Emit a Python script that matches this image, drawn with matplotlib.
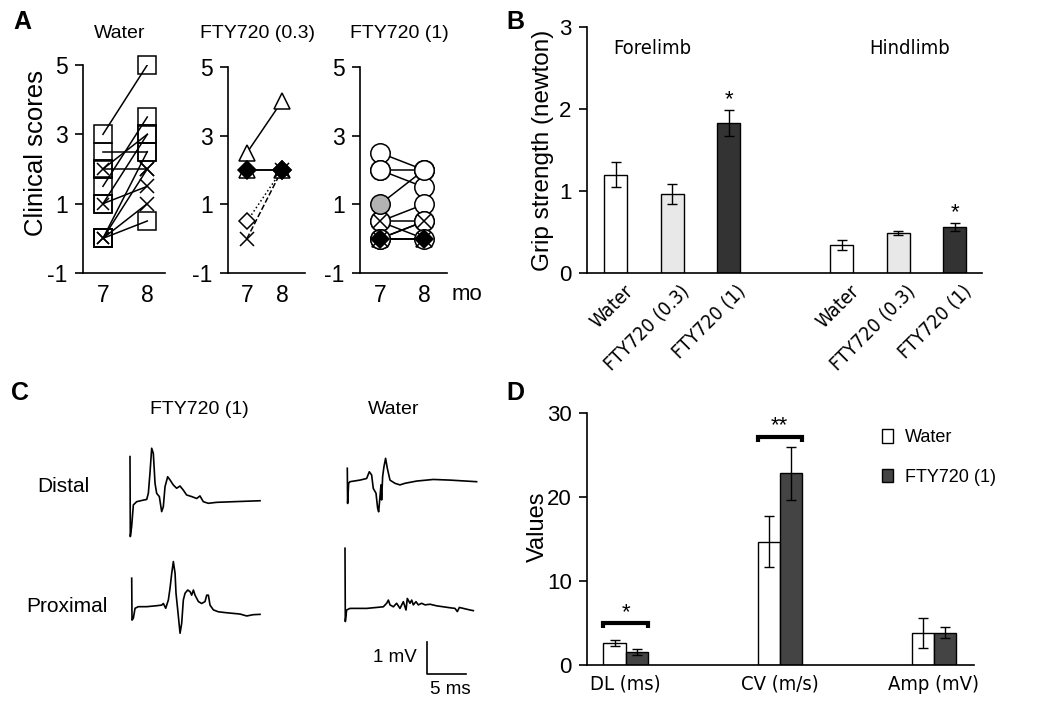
import matplotlib
matplotlib.use("Agg")
import matplotlib.pyplot as plt
from matplotlib.patches import Patch
from matplotlib.transforms import ScaledTranslation

W, H = 1050, 710
plt.rcParams["font.family"] = ["Liberation Sans", "DejaVu Sans"]
plt.rcParams["axes.unicode_minus"] = False
NARROW = dict(family=["Liberation Sans Narrow", "DejaVu Sans"], stretch="condensed")

# ---- A: clinical scores per mouse at 7 and 8 months
MONTHS = [7, 8]
A_TITLES = ["Water", "FTY720 (0.3)", "FTY720 (1)"]

water_7 = [3, 2.5, 2, 2, 1.5, 1, 1, 0, 0, 0, 0]
water_8 = [5, 2.5, 2, 3, 3.5, 3, 1.5, 2.5, 2, 1, 0.5]
water_k7 = ["square", "square", "square_x", "square", "square", "square",
            "square_x", "square", "square_x", "square_x", "square"]
water_k8 = ["square", "square", "cross", "square", "square", "square",
            "cross", "square", "cross", "cross", "square"]

f03_7 = [2.5, 2, 2, 0.5, 0]
f03_8 = [4, 2, 2, 2, 2]
f03_k7 = ["triangle", "triangle", "diamond_black", "diamond", "cross"]
f03_k8 = ["triangle", "triangle", "diamond_black", "diamond_black", "cross"]

f1_7 = [2.5, 2, 2, 1, 0.5, 0.5, 0.5, 0, 0, 0, 0, 0]
f1_8 = [2, 2, 1.5, 2, 1, 0, 0.5, 0.5, 0.5, 0, 0, 0]
f1_k7 = ["circle", "circle", "circle", "circle_gray", "circle", "cross", "circle",
         "cross", "circle", "triangle", "diamond_black", "circle"]
f1_k8 = ["circle", "circle", "circle", "circle", "circle", "cross", "circle",
         "cross", "circle", "triangle", "diamond_black", "circle"]

# ---- B: grip strength (newton), mean and error
B_LIMBS = ["Forelimb", "Hindlimb"]
B_TREAT = ["Water", "FTY720 (0.3)", "FTY720 (1)"]
fore_mean = [1.20, 0.96, 1.83]
fore_err = [0.155, 0.12, 0.16]
hind_mean = [0.34, 0.49, 0.56]
hind_err = [0.065, 0.025, 0.045]
fore_sig = ["", "", "*"]
hind_sig = ["", "", "*"]

# ---- C: nerve conduction traces (ms, mV)
fd_t = [0, 0.04, 0.21, 0.43, 0.85, 1.71, 2.14, 2.35, 2.56, 2.78, 2.99, 3.21, 3.42, 3.76,
        4.06, 4.27, 4.49, 4.83, 5.13, 5.56, 5.98, 6.41, 6.84, 7.26, 7.91, 8.55, 8.97,
        9.40, 10.04, 11.11, 13.25, 16.67]
fd_v = [1.41, -1.09, -0.78, -0.10, 0, 0.05, 0.07, 0.26, 0.89, 1.67, 1.51, 0.57, 0.26, 0.16,
        -0.31, -0.16, 0.47, 0.78, 0.68, 0.52, 0.42, 0.49, 0.36, 0.21, 0.16, 0.10, 0.18,
        0, -0.05, -0.02, 0, 0.03]
fp_t = [0, 0.04, 0.21, 0.43, 0.85, 1.92, 3.21, 3.85, 4.06, 4.36, 4.70, 4.91, 5.13, 5.34,
        5.56, 5.68, 5.90, 6.20, 6.41, 6.62, 6.84, 7.18, 7.48, 7.69, 7.91, 8.12, 8.55, 8.97,
        9.40, 9.62, 9.83, 10.04, 10.47, 11.11, 12.18, 13.03, 13.89, 14.74, 15.60, 16.45]
fp_v = [1.15, -0.16, -0.10, 0.21, 0.26, 0.26, 0.29, 0.31, 0.36, 0.21, 0.47, 0.83, 1.30, 1.67,
        1.30, 0.68, 0.16, -0.57, -0.26, 0.47, 0.68, 0.78, 0.73, 0.62, 0.78, 0.62, 0.42, 0.36,
        0.42, 0.62, 0.62, 0.31, 0.16, 0.10, 0.07, 0.05, 0.03, -0.03, 0.01, 0.02]
wd_t = [0, 0.04, 0.17, 0.34, 1.62, 2.48, 2.82, 3.12, 3.33, 3.68, 3.89, 4.02, 4.19, 4.32,
        4.40, 4.53, 4.70, 4.91, 5.13, 5.47, 6.11, 6.75, 7.39, 8.89, 11.03, 13.16, 16.58]
wd_v = [0.42, -0.68, -0.05, 0, 0.05, 0.10, 0.31, 0.21, -0.21, -0.36, -0.83, -0.94, -0.47,
        -0.10, -0.57, 0.16, 0.47, 0.73, 0.42, 0.05, -0.05, -0.10, -0.05, 0.02, 0.07, 0.05, 0]
wp_t = [0, 0.04, 0.21, 0.64, 2.78, 4.91, 5.34, 5.56, 5.77, 6.20, 6.62, 7.05, 7.48, 7.82,
        7.99, 8.33, 8.55, 8.76, 9.10, 9.40, 9.83, 10.26, 10.90, 11.75, 12.61, 13.46, 14.10,
        14.40, 14.66, 15.17, 16.03, 16.45]
wp_v = [1.93, -0.36, 0, 0.05, 0.05, 0.10, 0.21, 0.31, 0.16, 0.10, 0.21, 0.05, 0.26, 0,
        0.36, 0.21, 0.31, 0.16, 0.26, 0.16, 0.21, 0.16, 0.18, 0.13, 0.10, 0.07, 0.05,
        -0.05, 0.08, 0.05, 0, -0.02]
SCALE_MV, SCALE_MS = 1, 5

# ---- D: conduction values
D_CATS = ["DL (ms)", "CV (m/s)", "Amp (mV)"]
D_SERIES = ["Water", "FTY720 (1)"]
water_vals = [2.6, 14.7, 3.8]
water_errs = [0.35, 3.0, 1.8]
fty_vals = [1.5, 22.8, 3.85]
fty_errs = [0.35, 3.2, 0.65]
d_sig = ["*", "**", ""]
d_sig_level = [5.0, 27.2, None]

fig = plt.figure(figsize=(W / 100, H / 100), dpi=100)


def px_axes(l, t, r, b):
    return fig.add_axes([l / W, 1 - b / H, (r - l) / W, (b - t) / H])


def ftext(x, y, s, **kw):
    kw.setdefault("ha", "center")
    kw.setdefault("va", "center")
    fig.text(x / W, 1 - y / H, s, **kw)


def frame(ax, size=15):
    for s in ("top", "right"):
        ax.spines[s].set_visible(False)
    for s in ("left", "bottom"):
        ax.spines[s].set_linewidth(1.2)
    ax.tick_params(axis="y", direction="out", length=6, width=1.2, labelsize=size, pad=5)


# panel letters
for letter, x, y in [("A", 22, 22), ("B", 515, 22), ("C", 20, 393), ("D", 515, 393)]:
    ftext(x, y, letter, fontsize=18, fontweight="bold")

# ---------------- A
MARKS = {
    "square": [("s", 13, "none", 3)],
    "square_x": [("s", 13, "none", 3), ("x", 9, "black", 5)],
    "cross": [("x", 10, "black", 5)],
    "triangle": [("^", 12, "white", 3)],
    "diamond": [("D", 8, "white", 3)],
    "diamond_black": [("D", 9, "black", 4)],
    "circle": [("o", 14, "white", 3)],
    "circle_gray": [("o", 14, "#b3b3b3", 4)],
}
A_BOXES = [(83, 65, 165, 273), (228, 67, 305, 273), (360, 67, 447, 273)]
A_XLIM = [(6.55, 8.4), (6.46, 8.66), (6.55, 8.52)]
A_TITLE_X = [120, 257, 399]
f03_ls = ["-", "-", "-", ":", "--"]
groups = [(water_7, water_8, water_k7, water_k8, ["-"] * len(water_7)),
          (f03_7, f03_8, f03_k7, f03_k8, f03_ls),
          (f1_7, f1_8, f1_k7, f1_k8, ["-"] * len(f1_7))]

for i, (v7, v8, k7, k8, ls) in enumerate(groups):
    ax = px_axes(*A_BOXES[i])
    frame(ax, 16.5)
    for j in range(len(v7)):
        ax.plot(MONTHS, [v7[j], v8[j]], color="black", lw=1.1, ls=ls[j], zorder=2)
        for m, val, kind in ((MONTHS[0], v7[j], k7[j]), (MONTHS[1], v8[j], k8[j])):
            for marker, size, face, z in MARKS[kind]:
                ax.plot(m, val, marker=marker, ms=size, mfc=face, mec="black", mew=1.1,
                        ls="none", zorder=z, clip_on=False)
    ax.set_xlim(*A_XLIM[i])
    ax.set_ylim(-1, 5)
    ax.set_yticks([-1, 1, 3, 5])
    ax.set_xticks(MONTHS)
    ax.tick_params(axis="x", length=0, labelsize=16.5, pad=8)
    ftext(A_TITLE_X[i], 33, A_TITLES[i], fontsize=14)
ftext(452, 294, "mo", fontsize=16, ha="left")
ftext(36, 153, "Clinical scores", fontsize=18.5, rotation=90)

# ---------------- B
ax = px_axes(587, 27, 982, 273)
frame(ax, 16)
b_pos = [0, 1, 2, 4, 5, 6]
b_fill = ["white", "#e8e8e8", "#333333"] * 2
means = fore_mean + hind_mean
errs = fore_err + hind_err
sigs = fore_sig + hind_sig
ax.bar(b_pos, means, width=0.41, color=b_fill, edgecolor="black", linewidth=1.0,
       yerr=errs, capsize=3.5, error_kw=dict(elinewidth=1.0, capthick=1.0), zorder=2)
for x, m, e, s in zip(b_pos, means, errs, sigs):
    if s:
        ax.text(x, m + e + 0.06, s, ha="center", va="baseline", fontsize=16)
ax.set_xlim(-0.51, 6.48)
ax.set_ylim(0, 3)
ax.set_yticks([0, 1, 2, 3])
ax.set_xticks(b_pos)
ax.set_xticklabels(B_TREAT * 2, rotation=45, ha="right", va="center",
                   rotation_mode="anchor", fontsize=14, **NARROW)
ax.tick_params(axis="x", length=0, pad=11)
shift = ScaledTranslation(0.14, 0, fig.dpi_scale_trans)
for lab in ax.get_xticklabels():
    lab.set_transform(lab.get_transform() + shift)
ftext(652, 48, B_LIMBS[0], fontsize=14.5, **NARROW)
ftext(910, 48, B_LIMBS[1], fontsize=14.5, **NARROW)
ftext(543, 150, "Grip strength (newton)", fontsize=17.5, rotation=90)

# ---------------- C
ax = px_axes(0, 340, 480, 710)
ax.set_xlim(0, 480)
ax.set_ylim(710, 340)
ax.axis("off")
PX_MS, PX_MV = 7.8, 32.0
traces = [(fd_t, fd_v, 130, 501.7), (fp_t, fp_v, 131.7, 615),
          (wd_t, wd_v, 347.3, 481.7), (wp_t, wp_v, 345, 610)]
for t, v, x0, y0 in traces:
    ax.plot([x0 + a * PX_MS for a in t], [y0 - b * PX_MV for b in v],
            color="black", lw=1.2)
sx, sy = 427, 674
ax.plot([sx, sx, sx + SCALE_MS * PX_MS], [sy - SCALE_MV * PX_MV, sy, sy],
        color="black", lw=1.2)
ftext(199, 410, "FTY720 (1)", fontsize=14)
ftext(394, 410, "Water", fontsize=14)
ftext(63, 487, "Distal", fontsize=15)
ftext(67, 607, "Proximal", fontsize=15)
ftext(417, 658, "1 mV", fontsize=13.5, ha="right")
ftext(450, 690, "5 ms", fontsize=13.5)

# ---------------- D
ax = px_axes(587, 413, 974, 665)
frame(ax, 16)
bw = 0.143
cats = range(len(D_CATS))
ax.bar([c - bw / 2 for c in cats], water_vals, width=bw, color="white", edgecolor="black",
       linewidth=1.0, yerr=water_errs, capsize=3.5,
       error_kw=dict(elinewidth=1.0, capthick=1.0), label=D_SERIES[0])
ax.bar([c + bw / 2 for c in cats], fty_vals, width=bw, color="#444444", edgecolor="black",
       linewidth=1.0, yerr=fty_errs, capsize=3.5,
       error_kw=dict(elinewidth=1.0, capthick=1.0), label=D_SERIES[1])
for c, s, lev in zip(cats, d_sig, d_sig_level):
    if lev is None:
        continue
    ax.plot([c - bw, c - bw, c + bw, c + bw], [lev - 0.6, lev, lev, lev - 0.6],
            color="black", lw=3, solid_capstyle="butt", solid_joinstyle="miter")
    ax.text(c, lev + 0.6, s, ha="center", va="baseline", fontsize=16)
ax.set_xlim(-0.25, 2.26)
ax.set_ylim(0, 30)
ax.set_yticks([0, 10, 20, 30])
ax.set_xticks(list(cats))
ax.set_xticklabels(D_CATS, fontsize=14.5, **NARROW)
ax.tick_params(axis="x", length=0, pad=7)
handles = [Patch(facecolor="white", edgecolor="black", linewidth=1.0),
           Patch(facecolor="#444444", edgecolor="black", linewidth=1.0)]
ax.legend(handles, D_SERIES, loc="upper left", bbox_to_anchor=(0.762, 0.935), frameon=False,
          fontsize=13, handlelength=0.6, handleheight=0.75, handletextpad=0.7,
          labelspacing=1.25, borderpad=0, borderaxespad=0)
ftext(538, 527, "Values", fontsize=17, rotation=90)

fig.savefig("out.png", dpi=100)
